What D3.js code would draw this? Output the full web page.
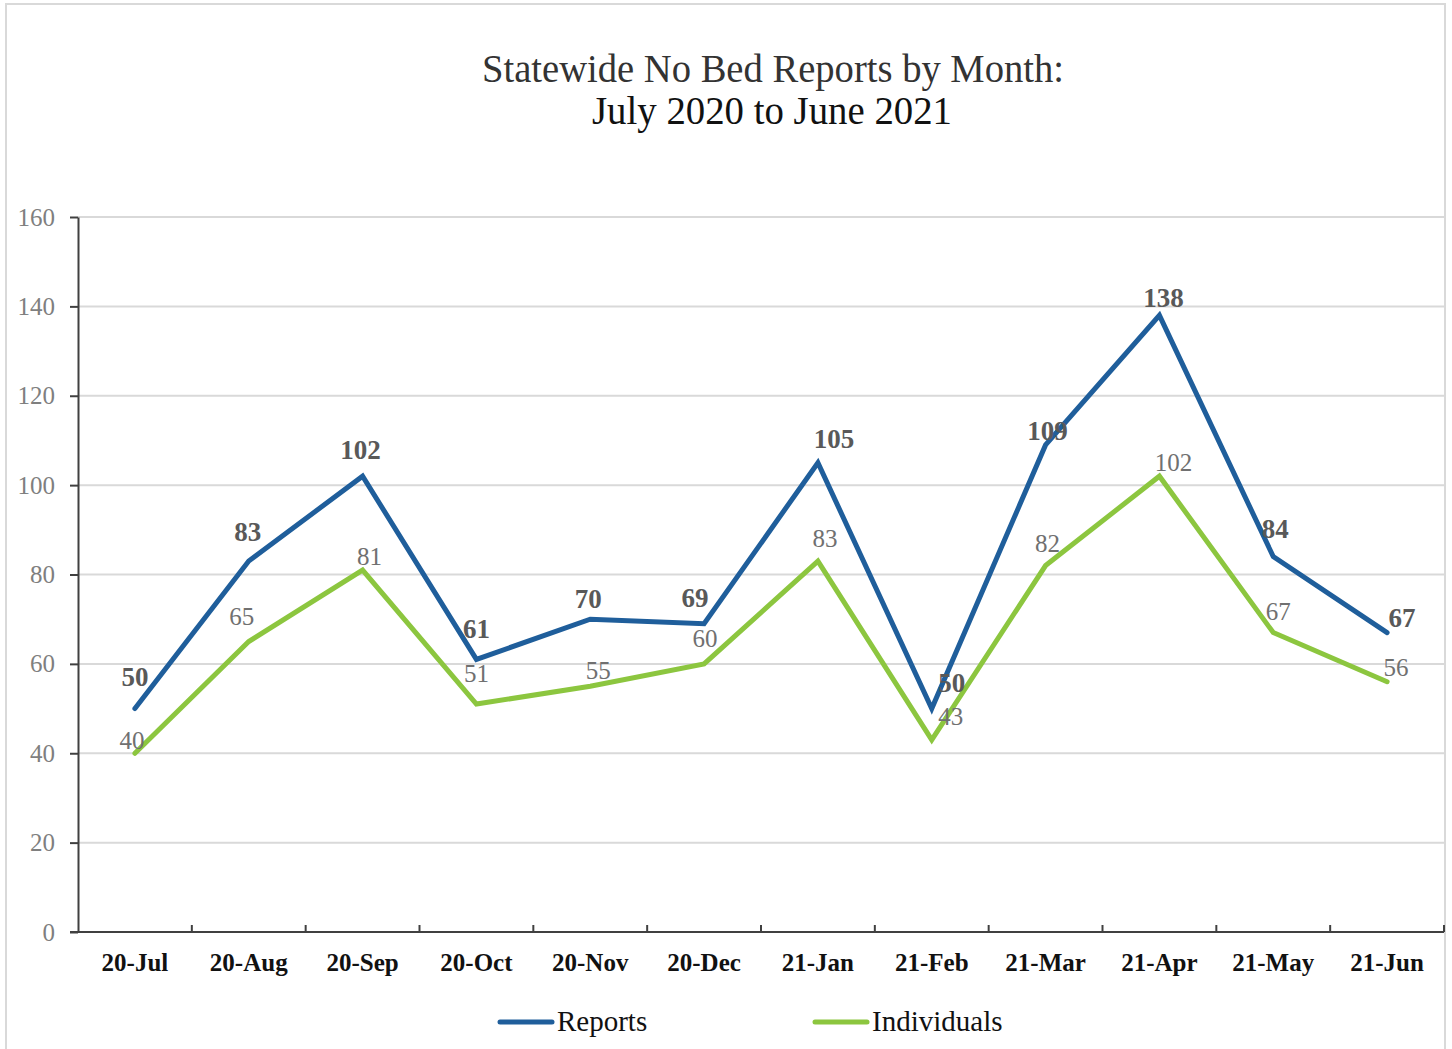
<!DOCTYPE html>
<html>
<head>
<meta charset="utf-8">
<script src="https://cdn.jsdelivr.net/npm/d3@7"></script>
<style>
  body { margin: 0; background: #fff; }
  svg { display: block; }
</style>
</head>
<body>
<svg id="chart" width="1452" height="1049"></svg>
<script>
// data
const months = ["20-Jul", "20-Aug", "20-Sep", "20-Oct", "20-Nov", "20-Dec",
                "21-Jan", "21-Feb", "21-Mar", "21-Apr", "21-May", "21-Jun"];
const reports = [50, 83, 102, 61, 70, 69, 105, 50, 109, 138, 84, 67];
const individuals = [40, 65, 81, 51, 55, 60, 83, 43, 82, 102, 67, 56];
const yTicks = [0, 20, 40, 60, 80, 100, 120, 140, 160];

// label nudges (px) so labels sit where the original placed them
const reportsNudge = [[0, -32], [-1, -30], [-2, -27], [0, -31], [-2, -21], [-9, -26],
                      [16, -24], [20, -26], [2, -14], [4, -18], [2, -28], [15, -15]];
const individualsNudge = [[-3, -13], [-7, -25], [7, -14], [0, -31], [8, -16], [1, -26],
                          [7, -23], [19, -24], [2, -22], [14, -14], [5, -21], [9, -15]];

const svg = d3.select("#chart");
const serif = "'Liberation Serif', 'DejaVu Serif', serif";
const blue = "#1f5e9b";
const green = "#8cc63f";

const plotLeft = 78, plotRight = 1444, plotTop = 217, plotBottom = 932;

// chart frame
svg.append("rect")
  .attr("x", 6).attr("y", 4)
  .attr("width", 1439).attr("height", 1070)
  .attr("fill", "none")
  .attr("stroke", "#d9d9d9")
  .attr("stroke-width", 2);

// title
const title = svg.append("g").attr("font-family", serif);
title.append("text")
  .attr("x", 773).attr("y", 82)
  .attr("text-anchor", "middle")
  .attr("font-size", 40)
  .attr("fill", "#333")
  .attr("textLength", 582)
  .attr("lengthAdjust", "spacingAndGlyphs")
  .text("Statewide No Bed Reports by Month:");
title.append("text")
  .attr("x", 772).attr("y", 124)
  .attr("text-anchor", "middle")
  .attr("font-size", 40)
  .attr("fill", "#111")
  .attr("textLength", 360)
  .attr("lengthAdjust", "spacingAndGlyphs")
  .text("July 2020 to June 2021");

const x = d3.scaleBand().domain(months).range([plotLeft, plotRight]);
const y = d3.scaleLinear().domain([0, 160]).range([plotBottom, plotTop]);
const cx = (m) => x(m) + x.bandwidth() / 2;

// gridlines
svg.append("g")
  .selectAll("line")
  .data(yTicks.filter((d) => d > 0))
  .enter()
  .append("line")
  .attr("x1", plotLeft).attr("x2", plotRight)
  .attr("y1", (d) => y(d)).attr("y2", (d) => y(d))
  .attr("stroke", "#d9d9d9")
  .attr("stroke-width", 2);

// y axis
const yAxis = svg.append("g")
  .attr("transform", `translate(${plotLeft},0)`)
  .call(d3.axisLeft(y).tickValues(yTicks).tickSizeInner(8).tickSizeOuter(0).tickPadding(15));
yAxis.select(".domain").attr("stroke", "#404040").attr("stroke-width", 2);
yAxis.selectAll(".tick line").attr("stroke", "#404040").attr("stroke-width", 2);
yAxis.selectAll(".tick text")
  .attr("font-family", serif)
  .attr("font-size", 25)
  .attr("fill", "#7f7f7f");

// x axis: boundary ticks pointing up
const xg = svg.append("g");
xg.append("line")
  .attr("x1", plotLeft - 8).attr("x2", plotRight)
  .attr("y1", plotBottom).attr("y2", plotBottom)
  .attr("stroke", "#404040")
  .attr("stroke-width", 2);
xg.selectAll(".xtick")
  .data(months.slice(1).concat(["end"]))
  .enter()
  .append("line")
  .attr("x1", (d) => (d === "end" ? plotRight : x(d)))
  .attr("x2", (d) => (d === "end" ? plotRight : x(d)))
  .attr("y1", plotBottom).attr("y2", plotBottom - 7)
  .attr("stroke", "#404040")
  .attr("stroke-width", 2);
xg.selectAll(".xlabel")
  .data(months)
  .enter()
  .append("text")
  .attr("x", (d) => cx(d))
  .attr("y", 971)
  .attr("text-anchor", "middle")
  .attr("font-family", serif)
  .attr("font-weight", "bold")
  .attr("font-size", 25)
  .attr("fill", "#111")
  .text((d) => d);

// lines
const line = d3.line()
  .x((d, i) => cx(months[i]))
  .y((d) => y(d));

[[individuals, green], [reports, blue]].forEach(([vals, col]) => {
  svg.append("path")
    .datum(vals)
    .attr("d", line)
    .attr("fill", "none")
    .attr("stroke", col)
    .attr("stroke-width", 5)
    .attr("stroke-linejoin", "miter")
    .attr("stroke-linecap", "round");
});

// data labels
function addLabels(vals, nudge, weight, color, size) {
  svg.append("g")
    .selectAll("text")
    .data(vals)
    .enter()
    .append("text")
    .attr("x", (d, i) => cx(months[i]) + nudge[i][0])
    .attr("y", (d, i) => y(d) + nudge[i][1])
    .attr("dy", "0.35em")
    .attr("text-anchor", "middle")
    .attr("font-family", serif)
    .attr("font-weight", weight)
    .attr("font-size", size)
    .attr("fill", color)
    .text((d) => d);
}
addLabels(individuals, individualsNudge, "normal", "#707070", 25);
addLabels(reports, reportsNudge, "bold", "#595959", 27);

// legend
const legend = [["Reports", blue, 500], ["Individuals", green, 815]];
const lg = svg.append("g");
legend.forEach(([name, col, lx]) => {
  lg.append("line")
    .attr("x1", lx).attr("x2", lx + 52)
    .attr("y1", 1022).attr("y2", 1022)
    .attr("stroke", col)
    .attr("stroke-width", 5)
    .attr("stroke-linecap", "round");
  lg.append("text")
    .attr("x", lx + 57).attr("y", 1031)
    .attr("font-family", serif)
    .attr("font-size", 29)
    .attr("fill", "#111")
    .text(name);
});
</script>
</body>
</html>
